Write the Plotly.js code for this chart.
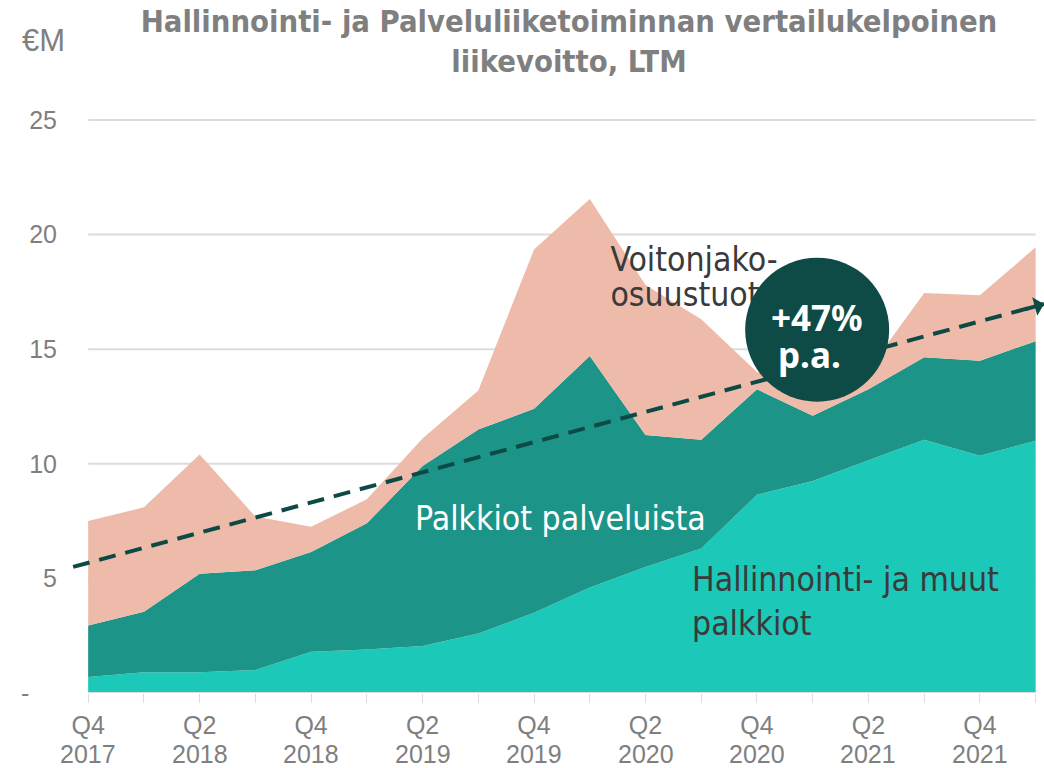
<!DOCTYPE html>
<html>
<head>
<meta charset="utf-8">
<script src="https://cdn.plot.ly/plotly-3.0.1.min.js"></script>
<style>
  html, body { margin: 0; padding: 0; background: #ffffff; }
  #chart { width: 1044px; height: 768px; }
</style>
</head>
<body>
<div id="chart"></div>
<script>
// Quarters (LTM, € million)
const quarters = ["Q4 2017","Q1 2018","Q2 2018","Q3 2018","Q4 2018","Q1 2019","Q2 2019","Q3 2019","Q4 2019",
                  "Q1 2020","Q2 2020","Q3 2020","Q4 2020","Q1 2021","Q2 2021","Q3 2021","Q4 2021","Q1 2022"];
const tickQuarter = ["Q4","","Q2","","Q4","","Q2","","Q4","","Q2","","Q4","","Q2","","Q4",""];
const tickYear    = ["2017","","2018","","2018","","2019","","2019","","2020","","2020","","2021","","2021",""];
// Stacked layers (values per layer)
const hallinnointi = [0.7,0.9,0.9,1.0,1.8,1.9,2.05,2.6,3.5,4.6,5.5,6.3,8.65,9.25,10.15,11.05,10.35,11.0];
const palkkiot     = [2.25,2.65,4.3,4.35,4.35,5.5,7.85,8.9,8.9,10.1,5.75,4.75,4.6,2.85,3.1,3.6,4.15,4.35];
const voitonjako   = [4.55,4.55,5.2,2.35,1.1,1.05,1.2,1.7,6.95,6.85,6.55,5.25,0.75,1.2,0.85,2.8,2.85,4.1];
// Trend (+47% p.a.)
const trendStart = {x: -0.27, y: 5.5};
const trendEnd   = {x: 17.15, y: 16.97};
const growthText = "+47%";
const yTicks = [0,5,10,15,20,25];
const yTickText = ["-\u00a0\u00a0\u00a0\u00a0","5","10","15","20","25"];

const xIdx = quarters.map((q, i) => i);
const sans = "'Liberation Sans', Arial, sans-serif";
const cond = "'DejaVu Sans Condensed', 'DejaVu Sans', sans-serif";

const traces = [
  {x: xIdx, y: hallinnointi, name: "Hallinnointi- ja muut palkkiot", type: "scatter", mode: "lines",
   stackgroup: "one", line: {width: 0}, fillcolor: "#1CC8B7", hoverinfo: "skip"},
  {x: xIdx, y: palkkiot, name: "Palkkiot palveluista", type: "scatter", mode: "lines",
   stackgroup: "one", line: {width: 0}, fillcolor: "#1D9488", hoverinfo: "skip"},
  {x: xIdx, y: voitonjako, name: "Voitonjako-osuustuotot", type: "scatter", mode: "lines",
   stackgroup: "one", line: {width: 0}, fillcolor: "#EEBAA9", hoverinfo: "skip"},
  {x: [9.37, 9.37], y: [18.76, 17.23], mode: "text", type: "scatter", text: ["Voitonjako-", "osuustuotot"],
   textposition: "middle right", textfont: {family: cond, size: 33.5, color: "#3a3a3a"},
   hoverinfo: "skip", showlegend: false, cliponaxis: false}
];

const shapes = [];
[5,10,15,20,25].forEach(v => shapes.push({type: "line", xref: "x", yref: "y", x0: 0, x1: quarters.length - 1,
  y0: v, y1: v, line: {color: "#dcdcdc", width: 2}, layer: "below"}));
shapes.push({type: "line", xref: "x", yref: "y", x0: 0, x1: quarters.length - 1, y0: 0, y1: 0,
  line: {color: "#dcdcdc", width: 2}, layer: "above"});
shapes.push({type: "line", xref: "x", yref: "y", x0: trendStart.x, y0: trendStart.y, x1: trendEnd.x, y1: trendEnd.y,
  line: {color: "#0d4a45", width: 4, dash: "17px,10px"}, layer: "above"});
shapes.push({type: "circle", xref: "x", yref: "y", xsizemode: "pixel", ysizemode: "pixel",
  xanchor: 13.08, yanchor: 15.85, x0: -72, x1: 72, y0: -72, y1: 72,
  fillcolor: "#0e4b46", line: {width: 0}, layer: "above"});

const annotations = [
  {x: trendEnd.x, y: trendEnd.y, xref: "x", yref: "y", text: "", showarrow: true, arrowhead: 1,
   arrowsize: 0.8, arrowwidth: 4, arrowcolor: "#0d4a45", ax: -20, ay: 5.5, standoff: 0},
  {x: 13.07, y: 16.4, xref: "x", yref: "y", text: "<b>" + growthText + "</b>", showarrow: false,
   font: {family: "'Noto Sans', 'Open Sans', sans-serif", size: 35, color: "#ffffff"}},
  {x: 12.95, y: 14.75, xref: "x", yref: "y", text: "<b>p.a.</b>", showarrow: false,
   font: {family: "'Noto Sans', 'Open Sans', sans-serif", size: 35, color: "#ffffff"}},
  {x: 5.82, y: 7.62, xref: "x", yref: "y", text: "Palkkiot palveluista", showarrow: false, xanchor: "left",
   font: {family: cond, size: 33.5, color: "#ffffff"}},
  {x: 10.8, y: 4.0, xref: "x", yref: "y", text: "Hallinnointi- ja muut<br>palkkiot", showarrow: false,
   xanchor: "left", align: "left", font: {family: cond, size: 33.5, color: "#3a3a3a"}},
  {x: -52 / 972, y: 1 + 60 / 593, xref: "paper", yref: "paper", text: "€M", showarrow: false,
   xanchor: "left", yanchor: "middle", font: {family: sans, size: 31, color: "#808080"}}
];
// year line of the category labels
xIdx.forEach(i => {
  if (tickYear[i]) annotations.push({x: i, y: -61 / 593, xref: "x", yref: "paper", text: tickYear[i],
    showarrow: false, xanchor: "center", yanchor: "middle", font: {family: sans, size: 25, color: "#7f7f7f"}});
});

const layout = {
  width: 1044, height: 768,
  margin: {l: 72, r: 0, t: 100, b: 75, pad: 0},
  paper_bgcolor: "#ffffff", plot_bgcolor: "#ffffff",
  showlegend: false,
  title: {text: "<b>Hallinnointi- ja Palveluliiketoiminnan vertailukelpoinen<br>liikevoitto, LTM</b>",
    x: 0.545, xanchor: "center", y: 0.958, yanchor: "top", yref: "container",
    font: {family: cond, size: 30.7, color: "#7f7f7f"}},
  xaxis: {type: "linear", range: [-0.29, 17.15], showgrid: false, zeroline: false, showline: false,
    tickmode: "array", tickvals: xIdx, ticktext: tickQuarter, ticks: "outside", ticklen: 9,
    tickcolor: "#dcdcdc", tickwidth: 1, ticklabelstandoff: 1,
    tickfont: {family: sans, size: 25, color: "#7f7f7f"}, fixedrange: true},
  yaxis: {range: [0, 25.87], showgrid: false, zeroline: false, showline: false,
    tickmode: "array", tickvals: yTicks, ticktext: yTickText, ticks: "", ticklabelstandoff: 14,
    tickfont: {family: sans, size: 25, color: "#7f7f7f"}, fixedrange: true},
  shapes: shapes,
  annotations: annotations
};

Plotly.newPlot("chart", traces, layout, {displayModeBar: false, staticPlot: true});
</script>
</body>
</html>
